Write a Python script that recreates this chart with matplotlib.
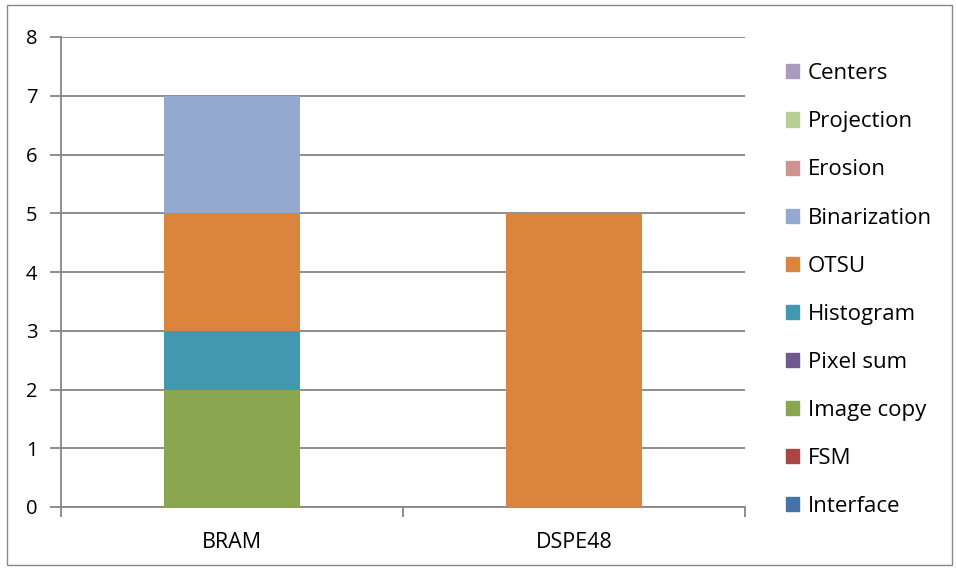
import matplotlib
matplotlib.use("Agg")
import matplotlib.pyplot as plt
import matplotlib.patches as mpatches
import numpy as np

plt.rcParams['font.family'] = ['Open Sans', 'DejaVu Sans']

categories = ['BRAM', 'DSPE48']
series = ['Interface', 'FSM', 'Image copy', 'Pixel sum', 'Histogram',
          'OTSU', 'Binarization', 'Erosion', 'Projection', 'Centers']
values = {
    'Interface':    [0, 0],
    'FSM':          [0, 0],
    'Image copy':   [2, 0],
    'Pixel sum':    [0, 0],
    'Histogram':    [1, 0],
    'OTSU':         [2, 5],
    'Binarization': [2, 0],
    'Erosion':      [0, 0],
    'Projection':   [0, 0],
    'Centers':      [0, 0],
}
colors = ['#4572A7', '#AA4643', '#89A54E', '#71588F', '#4198AF',
          '#DB843D', '#93A9CF', '#D19392', '#B9CD96', '#A99BBD']

fig = plt.figure(figsize=(9.56, 5.69), dpi=100)
ax = fig.add_axes([61 / 956, 1 - 507 / 569, (745 - 61) / 956, (507 - 37) / 569])

x = np.arange(len(categories))
bottom = np.zeros(len(categories))
handles = []
for name, c in zip(series, colors):
    v = np.array(values[name], dtype=float)
    ax.bar(x, v, width=0.395, bottom=bottom, color=c, linewidth=0, zorder=3)
    bottom += v
    handles.append(mpatches.Patch(color=c, label=name))

grid_c = '#868686'
ax.set_ylim(0, 8)
ax.set_xlim(-0.5, 1.5)
ax.set_yticks(range(0, 9))
ax.yaxis.grid(True, color=grid_c, linewidth=1.3, zorder=0)
ax.set_xticks([-0.5, 0.5, 1.5])
ax.set_xticklabels([])
ax.set_xticks(x, minor=True)
ax.set_xticklabels(categories, minor=True)
ax.tick_params(axis='x', which='minor', length=0, pad=18, labelsize=15.5)
ax.tick_params(axis='x', which='major', length=7, color=grid_c, width=1.3)
ax.tick_params(axis='y', length=8, color=grid_c, width=1.3, labelsize=14.5, pad=9)
for s in ['top', 'right']:
    ax.spines[s].set_visible(False)
for s in ['left', 'bottom']:
    ax.spines[s].set_color(grid_c)
    ax.spines[s].set_linewidth(1.3)

fig.legend(handles[::-1], series[::-1], loc='center left',
           bbox_to_anchor=(0.801, 0.49), frameon=False, fontsize=16,
           labelspacing=1.22, handlelength=0.6, handleheight=0.6,
           handletextpad=0.4)

fig.patches.append(mpatches.Rectangle((7 / 956, 4 / 569), 945 / 956, 560 / 569,
                                      transform=fig.transFigure, fill=False,
                                      edgecolor='#888888', linewidth=1))

fig.savefig('out.png', dpi=100)
